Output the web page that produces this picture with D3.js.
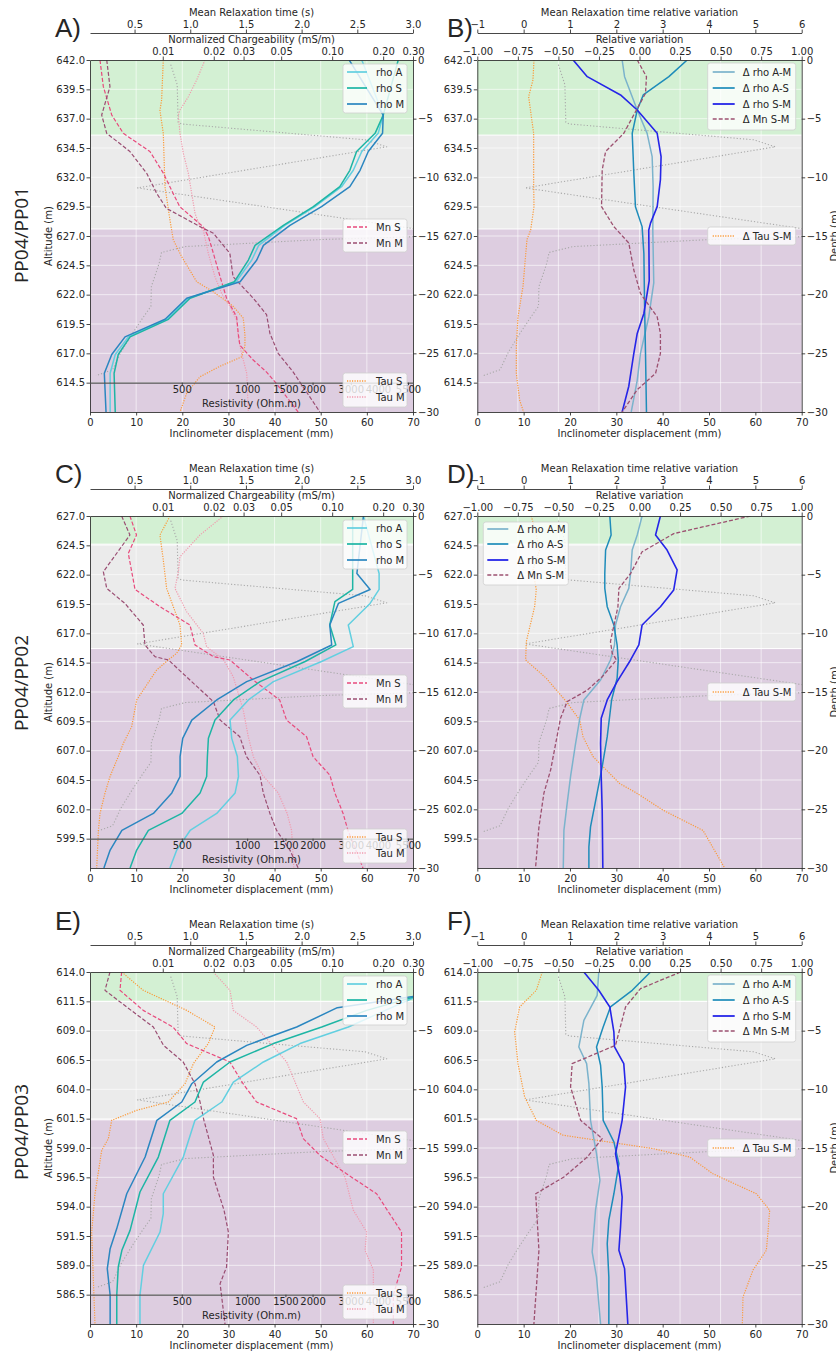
<!DOCTYPE html>
<html><head><meta charset="utf-8">
<script src="https://cdn.jsdelivr.net/npm/d3@7"></script>
<style>body{margin:0;background:#fff} svg text{font-family:"DejaVu Sans",sans-serif}</style>
</head><body><svg id="c" width="836" height="1355"></svg>
<script>
// ---------------- DATA ----------------
const rowNames = ["PP04/PP01","PP04/PP02","PP04/PP03"];
const leftLetters = ["A)","C)","E)"];
const rightLetters = ["B)","D)","F)"];
const altTop = [642, 627, 614];
const greenEnd = [-6.4, -2.4, -2.5];
const grayEnd = [-14.4, -11.3, -12.6];
const depthTicks = [0,-5,-10,-15,-20,-25,-30];
const inclTicks = [0,10,20,30,40,50,60,70];
const tauTicks = [0.5,1.0,1.5,2.0,2.5,3.0];
const mnTicks = [0.01,0.02,0.03,0.05,0.10,0.20,0.30];
const rhoTicks = [500,1000,1500,2000,3000,4000,5500];
const relTicks = [-1,-0.75,-0.5,-0.25,0,0.25,0.5,0.75,1];
const tauRelTicks = [-1,0,1,2,3,4,5,6];
const resAxisDepth = -27.5;

// inclinometer displacement (depth m, mm) - same borehole in every panel
const inclinometer = [[-0.4,17.5],[-2.1,18.9],[-5.3,19.1],[-5.45,19.8],[-6.8,59.6],[-7.4,64.3],[-10.9,10.3],[-14.95,80],[-15.3,50.2],[-15.9,20.7],[-16.4,15.5],[-17.3,15.0],[-17.8,14.6],[-19.3,13.3],[-21.0,13.2],[-22.0,11.4],[-23.3,9.2],[-24.9,6.7],[-26.4,4.9],[-26.9,1.3]];

// Row 1 (PP04/PP01)
const rhoA_1 = [[0,3370],[-4.7,4230],[-6.25,4010],[-7.8,3370],[-9.4,3080],[-10.8,2720],[-12.5,2050],[-14.1,1490],[-15.8,1130],[-17.05,1050],[-18.9,889],[-20.3,536],[-22.1,426],[-23.6,284],[-25.1,247],[-26.7,234],[-30,234]];
const rhoS_1 = [[0,4960],[-4.7,4230],[-6.25,3880],[-7.8,3190],[-9.4,2970],[-10.8,2670],[-12.5,2017],[-14.1,1468],[-15.8,1087],[-17.05,1013],[-18.9,873],[-20.3,546],[-22.1,434],[-23.6,289],[-25.1,255],[-26.7,244],[-30,247]];
const rhoM_1 = [[0,2950],[-4.7,4230],[-6.25,4200],[-7.8,3610],[-9.4,3310],[-10.8,2970],[-12.5,2200],[-14.1,1574],[-15.8,1188],[-17.05,1107],[-18.9,928],[-20.3,527],[-22.1,419],[-23.6,274],[-25.1,238],[-26.7,220],[-30,224]];
const mnS_1 = [[0,0.00426],[-2.27,0.00446],[-4.69,0.0050],[-6.25,0.00585],[-7.8,0.0084],[-9.66,0.0101],[-11.36,0.0115],[-12.5,0.0126],[-14.2,0.0173],[-15.06,0.0186],[-16.48,0.0199],[-18.47,0.0218],[-20.3,0.0238],[-21.9,0.0273],[-23.3,0.0279],[-24.3,0.0285],[-25.57,0.0342],[-26.6,0.041],[-27.6,0.047],[-30,0.063]];
const mnM_1 = [[0,0.00467],[-2.27,0.00488],[-4.69,0.00436],[-6.25,0.00467],[-7.8,0.0064],[-9.66,0.00804],[-11.36,0.0092],[-12.64,0.0105],[-14.2,0.0166],[-14.77,0.0199],[-16.48,0.0249],[-18.47,0.026],[-20.3,0.0342],[-21.7,0.041],[-23.3,0.0429],[-25.0,0.048],[-26.6,0.0589],[-30,0.0846]];
const tauS_1 = [[0,0.758],[-3.41,0.743],[-4.3,0.728],[-6.25,0.758],[-10.8,0.773],[-13.64,0.818],[-15.34,0.848],[-16.76,0.923],[-18.9,1.058],[-19.75,1.207],[-21.0,1.386],[-22.0,1.476],[-23.44,1.491],[-24.4,1.491],[-25.3,1.461],[-26.1,1.267],[-27.0,1.087],[-28.4,0.968],[-30,0.908]];
const tauM_1 = [[0,1.132],[-1.7,1.058],[-3.13,0.983],[-4.26,0.908],[-4.69,0.893],[-6.25,0.908],[-7.95,0.938],[-9.66,0.983],[-11.36,1.013],[-13.07,1.043],[-14.2,1.087],[-14.49,1.117],[-16.48,1.162],[-18.47,1.222],[-19.9,1.282],[-21.0,1.357],[-22.16,1.417],[-23.6,1.431],[-25.0,1.461],[-26.7,1.507],[-30,1.521]];
const dRhoAM_1 = [[0,-0.107],[-1.42,-0.092],[-4.26,-0.014],[-6.25,0.047],[-8.24,0.078],[-10.8,0.084],[-14.5,0.082],[-19.0,0.088],[-21.9,0.057],[-25.0,0.006],[-27.3,-0.014],[-30,-0.051]];
const dRhoAS_1 = [[0,0.294],[-1.42,0.181],[-2.98,0.023],[-4.26,-0.014],[-6.25,-0.045],[-8.24,-0.039],[-9.66,-0.035],[-12.5,-0.025],[-14.2,0.016],[-16.5,0.027],[-20.7,0.031],[-25.0,0.037],[-30,0.043]];
const dRhoSM_1 = [[0,-0.409],[-1.42,-0.322],[-2.98,-0.117],[-4.26,-0.014],[-6.25,0.109],[-8.24,0.133],[-10.2,0.129],[-12.5,0.109],[-13.9,0.068],[-14.5,0.057],[-18.8,0.060],[-21.6,0.027],[-23.3,-0.014],[-25.0,-0.035],[-27.8,-0.066],[-30,-0.107]];
const dMn_1 = [[0,-0.014],[-1.42,0.043],[-2.84,0.037],[-6.25,-0.097],[-7.8,-0.209],[-9.38,-0.230],[-12.5,-0.234],[-14.2,-0.158],[-15.6,-0.066],[-17.9,-0.035],[-19.9,0.006],[-21.9,0.109],[-23.3,0.129],[-25.0,0.129],[-26.7,0.099],[-28.1,-0.014],[-30,-0.107]];
const dTau_1 = [[0,0.223],[-1.7,0.201],[-3.13,0.108],[-6.25,0.216],[-10.5,0.216],[-12.5,0.223],[-14.5,0.151],[-15.3,0.072],[-19.3,-0.014],[-21.9,-0.122],[-24.4,-0.158],[-26.7,-0.158],[-29.0,-0.086],[-30,0]];

// Row 2 (PP04/PP02)
const rhoA_2 = [[0,3430],[-4.9,4050],[-6.26,4050],[-7.45,3680],[-9.29,2920],[-11.13,3080],[-12.4,2200],[-14.12,1321],[-15.68,1013],[-17.39,834],[-18.95,849],[-20.5,901],[-22.2,912],[-23.6,880],[-25.35,724],[-26.8,546],[-28.47,474],[-30,441]];
const rhoS_2 = [[0,3060],[-4.9,3060],[-6.26,3060],[-7.3,2535],[-9.29,2400],[-10.99,2560],[-12.4,1850],[-14.12,1146],[-15.68,864],[-17.39,711],[-18.95,663],[-20.5,656],[-22.2,651],[-23.6,607],[-25.35,500],[-26.8,351],[-28.47,310],[-30,289]];
const rhoM_2 = [[0,3430],[-4.9,3200],[-6.26,3680],[-7.45,2630],[-9.29,2400],[-10.99,2450],[-12.4,1700],[-14.12,995],[-15.68,724],[-17.39,556],[-18.95,505],[-20.5,491],[-22.2,491],[-23.6,450],[-25.35,370],[-26.8,265],[-28.47,234],[-30,219]];
const mnS_2 = [[0,0.0064],[-1.62,0.0070],[-3.18,0.00626],[-6.26,0.00686],[-7.73,0.00963],[-9.29,0.01447],[-10.99,0.0155],[-11.99,0.0199],[-12.27,0.0249],[-13.98,0.0342],[-15.68,0.049],[-17.39,0.0538],[-18.81,0.0706],[-20.5,0.0771],[-22.1,0.097],[-23.6,0.1037],[-25.35,0.116],[-26.8,0.124],[-30,0.152]];
const mnM_2 = [[0,0.00572],[-1.62,0.0064],[-4.75,0.00446],[-6.17,0.00467],[-7.45,0.00598],[-9.29,0.00767],[-10.99,0.00785],[-11.99,0.009],[-12.27,0.0108],[-13.98,0.01447],[-15.82,0.0199],[-17.39,0.0218],[-18.81,0.0285],[-20.5,0.0312],[-22.1,0.0375],[-23.6,0.0392],[-25.35,0.0429],[-26.8,0.047],[-28.47,0.0563],[-30,0.063]];
const tauS_2 = [[0,0.818],[-1.62,0.728],[-3.75,0.758],[-6.17,0.788],[-9.29,0.908],[-10.99,0.923],[-11.7,0.878],[-12.27,0.803],[-13.13,0.698],[-15.68,0.519],[-17.96,0.474],[-19.38,0.399],[-20.5,0.354],[-22.2,0.28],[-23.6,0.235],[-25.35,0.19],[-26.8,0.175],[-30,0.16]];
const tauM_2 = [[0,1.297],[-1.62,1.087],[-3.47,0.908],[-4.75,0.893],[-6.17,0.863],[-8.16,0.968],[-10.0,1.117],[-11.13,1.147],[-12.27,1.3],[-13.7,1.386],[-16.53,1.476],[-18.81,1.521],[-20.5,1.566],[-22.1,1.65],[-23.6,1.79],[-25.35,1.87],[-26.8,1.91],[-30,1.93]];
const dRhoAM_2 = [[0,0.016],[-1.62,-0.014],[-2.9,-0.045],[-4.9,-0.055],[-6.17,-0.066],[-7.73,-0.117],[-9.29,-0.148],[-10.99,-0.154],[-12.27,-0.179],[-13.98,-0.240],[-15.68,-0.343],[-17.24,-0.368],[-19.38,-0.394],[-22.2,-0.425],[-24.5,-0.446],[-26.8,-0.466],[-30,-0.470]];
const dRhoAS_2 = [[0,-0.183],[-1.62,-0.175],[-2.9,-0.209],[-4.9,-0.214],[-6.17,-0.214],[-7.73,-0.199],[-9.29,-0.158],[-10.99,-0.138],[-12.27,-0.131],[-13.83,-0.138],[-15.68,-0.172],[-18.81,-0.199],[-21.36,-0.230],[-23.6,-0.261],[-26.5,-0.302],[-28.2,-0.312],[-30,-0.312]];
const dRhoSM_2 = [[0,0.129],[-1.62,0.099],[-2.9,0.170],[-4.6,0.232],[-6.3,0.211],[-7.73,0.129],[-9.29,0.016],[-10.99,-0.004],[-12.27,-0.055],[-14.12,-0.138],[-15.68,-0.199],[-17.24,-0.236],[-19.38,-0.240],[-22.2,-0.236],[-25.07,-0.230],[-30,-0.226]];
const dMn_2 = [[0,0.684],[-1.5,0.211],[-3.05,0.016],[-4.9,-0.055],[-6.17,-0.127],[-7.73,-0.133],[-10.7,-0.179],[-11.7,-0.168],[-12.27,-0.142],[-13.7,-0.230],[-14.84,-0.322],[-15.82,-0.446],[-17.24,-0.487],[-21.65,-0.548],[-23.6,-0.589],[-26.5,-0.620],[-30,-0.641]];
const dTau_2 = [[0,0.165],[-1.62,0.273],[-2.9,0.345],[-4.6,0.201],[-6.3,0.273],[-7.73,0.237],[-10.7,0.058],[-12.27,0.043],[-13.83,0.489],[-15.82,0.921],[-17.39,1.209],[-18.81,1.281],[-20.5,1.496],[-21.36,1.712],[-22.8,2.072],[-23.6,2.432],[-25.07,3.007],[-26.8,3.871],[-30,4.338]];

// Row 3 (PP04/PP03)
const rhoA_3 = [[0,20000],[-2.1,6000],[-3.55,4000],[-4.69,2923],[-6.1,1751],[-7.67,1188],[-9.38,864],[-11.08,764],[-12.64,575],[-15.77,508],[-18.9,411],[-20.6,411],[-22.16,397],[-25.0,333],[-27.55,321],[-30,321]];
const rhoS_3 = [[0,20000],[-1.9,6500],[-3.27,3550],[-4.69,2204],[-6.1,1321],[-7.67,834],[-9.38,629],[-11.08,575],[-12.64,441],[-15.77,390],[-18.75,321],[-22.02,289],[-23.72,265],[-25.14,255],[-27.55,251],[-30,251]];
const rhoM_3 = [[0,20000],[-2.0,6200],[-3.04,2600],[-4.69,1690],[-6.25,995],[-7.67,724],[-9.52,556],[-11.08,500],[-12.64,384],[-15.77,339],[-18.9,279],[-21.87,251],[-23.58,234],[-25.28,227],[-27.55,234],[-30,234]];
const mnS_3 = [[0,0.00572],[-1.56,0.00559],[-3.27,0.00767],[-4.69,0.0115],[-6.1,0.01384],[-7.67,0.0249],[-9.52,0.0298],[-11.08,0.0358],[-12.5,0.0616],[-14.2,0.0675],[-15.62,0.0846],[-17.2,0.1215],[-18.9,0.183],[-22.16,0.2567],[-25.14,0.2567],[-27.55,0.2295],[-30,0.2295]];
const mnM_3 = [[0,0.00488],[-1.56,0.00456],[-2.98,0.00612],[-4.69,0.0088],[-6.25,0.0101],[-7.67,0.0132],[-9.52,0.0155],[-11.08,0.0166],[-12.64,0.0175],[-15.62,0.0199],[-17.47,0.0199],[-20.3,0.0230],[-22.16,0.0244],[-25.14,0.0238],[-26.56,0.0218],[-30,0.0233]];
const tauS_3 = [[0,0.385],[-1.56,0.578],[-3.27,0.968],[-4.69,1.222],[-6.1,1.162],[-7.81,1.028],[-9.52,0.953],[-11.08,0.803],[-11.79,0.519],[-12.64,0.295],[-14.2,0.265],[-15.2,0.205],[-18.9,0.145],[-22.16,0.115],[-30,0.145]];
const tauM_3 = [[0,1.207],[-1.56,1.357],[-3.27,1.386],[-4.69,1.596],[-7.67,1.866],[-11.08,2.016],[-12.5,2.165],[-14.2,2.195],[-17.47,2.389],[-20.3,2.464],[-22.16,2.584],[-23.72,2.569],[-25.4,2.644],[-30,2.644]];
const dRhoAM_3 = [[0,-0.251],[-1.99,-0.261],[-4.12,-0.343],[-6.39,-0.374],[-7.81,-0.326],[-9.52,-0.312],[-12.64,-0.302],[-15.48,-0.265],[-17.75,-0.244],[-20.3,-0.271],[-23.86,-0.292],[-25.99,-0.265],[-30,-0.240]];
const dRhoAS_3 = [[0,0.068],[-1.56,-0.045],[-2.98,-0.179],[-4.69,-0.224],[-6.39,-0.265],[-7.95,-0.240],[-9.8,-0.230],[-12.64,-0.224],[-14.48,-0.158],[-16.33,-0.127],[-18.9,-0.158],[-21.15,-0.189],[-23.15,-0.199],[-25.99,-0.189],[-30,-0.189]];
const dRhoSM_3 = [[0,-0.343],[-1.56,-0.251],[-2.98,-0.183],[-5.11,-0.158],[-6.39,-0.154],[-7.81,-0.097],[-9.8,-0.086],[-12.64,-0.107],[-14.06,-0.127],[-15.48,-0.148],[-17.47,-0.121],[-19.18,-0.107],[-21.73,-0.117],[-23.72,-0.127],[-25.28,-0.092],[-30,-0.072]];
const dMn_3 = [[0,0.253],[-1.42,0.006],[-2.98,-0.086],[-6.25,-0.148],[-7.81,-0.415],[-9.8,-0.425],[-12.64,-0.363],[-14.2,-0.230],[-15.77,-0.322],[-17.47,-0.466],[-18.9,-0.640],[-23.72,-0.620],[-30,-0.651]];
const dTau_3 = [[0,0.403],[-1.56,0.273],[-2.98,-0.086],[-5.11,-0.194],[-7.81,-0.122],[-10.65,0.022],[-12.64,0.273],[-13.91,0.849],[-15.05,2.791],[-15.77,3.583],[-17.2,4.086],[-18.9,5.022],[-20.3,5.309],[-22.16,5.273],[-23.72,5.237],[-25.4,4.95],[-27.7,4.734],[-30,4.719]];

const rhoA = [rhoA_1, rhoA_2, rhoA_3], rhoS = [rhoS_1, rhoS_2, rhoS_3], rhoM = [rhoM_1, rhoM_2, rhoM_3];
const mnS = [mnS_1, mnS_2, mnS_3], mnM = [mnM_1, mnM_2, mnM_3];
const tauS = [tauS_1, tauS_2, tauS_3], tauM = [tauM_1, tauM_2, tauM_3];
const dRhoAM = [dRhoAM_1, dRhoAM_2, dRhoAM_3], dRhoAS = [dRhoAS_1, dRhoAS_2, dRhoAS_3], dRhoSM = [dRhoSM_1, dRhoSM_2, dRhoSM_3];
const dMn = [dMn_1, dMn_2, dMn_3], dTau = [dTau_1, dTau_2, dTau_3];

// ---------------- LAYOUT / STYLE ----------------
const PH = 352;
const TOPS = [60, 516, 972];
const LX = [90, 413], RX = [477.3, 801.7];
const letterBase = [37, 483, 930];
const rowLabelY = [235, 683, 1132];
const COL = {rhoA:"#62cfe0", rhoS:"#1db5a4", rhoM:"#2a86c0", mnS:"#e84a7c", mnM:"#9a4d72", tauS:"#fb9a38", tauM:"#f19aae",
  incl:"#a9a9a9", dAM:"#7bb3cc", dAS:"#1e8cba", dSM:"#2525e8", dMn:"#9c5070", dTau:"#fb9a38"};
const ST = {
  rhoA:{c:COL.rhoA,w:1.5,d:null}, rhoS:{c:COL.rhoS,w:1.5,d:null}, rhoM:{c:COL.rhoM,w:1.5,d:null},
  mnS:{c:COL.mnS,w:1.2,d:"4,2"}, mnM:{c:COL.mnM,w:1.2,d:"4,2"},
  tauS:{c:COL.tauS,w:1.2,d:"1.2,1.3"}, tauM:{c:COL.tauM,w:1.2,d:"1.2,1.3"},
  incl:{c:COL.incl,w:1.1,d:"1.2,2"},
  dAM:{c:COL.dAM,w:1.5,d:null}, dAS:{c:COL.dAS,w:1.5,d:null}, dSM:{c:COL.dSM,w:1.6,d:null},
  dMn:{c:COL.dMn,w:1.3,d:"4,2"}, dTau:{c:COL.dTau,w:1.2,d:"1.2,1.3"}
};

const svg = d3.select("#c");
const defs = svg.append("defs");
const TXT = "#262626";

function styleAxis(g){
  g.attr("font-family","DejaVu Sans").attr("font-size",10);
  g.selectAll("path.domain").attr("stroke","#333").attr("stroke-width",0.9);
  g.selectAll(".tick line").attr("stroke","#333").attr("stroke-width",0.9);
  g.selectAll(".tick text").attr("fill",TXT);
  return g;
}
function label(x,y,s,o={}){
  const t = svg.append("text").attr("x",x).attr("y",y).attr("text-anchor",o.anchor||"middle")
    .attr("dominant-baseline",o.base||"central").attr("font-size",o.size||10).attr("fill",TXT).text(s);
  if(o.rot!==undefined) t.attr("transform",`rotate(${o.rot},${x},${y})`);
  if(o.family) t.style("font-family",o.family);
  return t;
}
function legend(bx,by,bw,bh,items,rowsY,swX,swL,txX){
  const g = svg.append("g");
  g.append("rect").attr("x",bx).attr("y",by).attr("width",bw).attr("height",bh).attr("rx",2.5)
    .attr("fill","#fff").attr("fill-opacity",0.8).attr("stroke","#cfcfcf").attr("stroke-width",0.8);
  items.forEach((it,i)=>{
    const yy = rowsY[i];
    g.append("line").attr("x1",swX).attr("x2",swX+swL).attr("y1",yy).attr("y2",yy)
      .attr("stroke",it.s.c).attr("stroke-width",it.s.w+0.2).attr("stroke-dasharray",it.s.d);
    g.append("text").attr("x",txX).attr("y",yy).attr("dominant-baseline","central").attr("font-size",10).attr("fill",TXT).text(it.t);
  });
}

function drawPanel(r, side){
  const T = TOPS[r];
  const [x0,x1] = side==="L" ? LX : RX;
  const y = d3.scaleLinear().domain([0,-30]).range([T,T+PH]);
  const alt = d3.scaleLinear().domain([altTop[r], altTop[r]-30]).range([T,T+PH]);
  const xIncl = d3.scaleLinear().domain([0,70]).range([x0,x1]);
  const cid = `clip${side}${r}`;
  defs.append("clipPath").attr("id",cid).append("rect").attr("x",x0).attr("y",T).attr("width",x1-x0).attr("height",PH);

  // zones
  const zones = [[0,greenEnd[r],"#d3f0d3"],[greenEnd[r],grayEnd[r],"#ebebeb"],[grayEnd[r],-30,"#ddcde0"]];
  zones.forEach(z=> svg.append("rect").attr("x",x0).attr("width",x1-x0).attr("y",y(z[0])).attr("height",y(z[1])-y(z[0])).attr("fill",z[2]));
  [greenEnd[r],grayEnd[r]].forEach(d=> svg.append("line").attr("x1",x0).attr("x2",x1).attr("y1",y(d)).attr("y2",y(d)).attr("stroke","#fff").attr("stroke-width",1));

  let xRel, xTauRel, xRho, xMn, xTau;
  if(side==="L"){
    xTau = d3.scaleLinear().domain([0.1,3.0]).range([x0,x1]);
    xMn = d3.scaleLog().domain([0.00372,0.3]).range([x0,x1]);
    xRho = d3.scaleLog().domain([189,5800]).range([x0,x1]);
  } else {
    xRel = d3.scaleLinear().domain([-1,1]).range([x0,x1]);
    xTauRel = d3.scaleLinear().domain([-1,6]).range([x0,x1]);
  }
  // grid
  const altTicks = d3.range(0,12).map(k=>altTop[r]-2.5*k);
  const gx = side==="L" ? inclTicks.map(xIncl) : relTicks.map(xRel);
  const grid = svg.append("g").attr("stroke","#fff").attr("stroke-opacity",0.75).attr("stroke-width",0.8);
  gx.forEach(v=>{ if(v>x0+1 && v<x1-1) grid.append("line").attr("x1",v).attr("x2",v).attr("y1",T).attr("y2",T+PH); });
  altTicks.forEach(a=>{ const v=alt(a); if(v>T+1) grid.append("line").attr("x1",x0).attr("x2",x1).attr("y1",v).attr("y2",v); });

  const plot = svg.append("g").attr("clip-path",`url(#${cid})`);
  function series(data,xs,s){
    const ln = d3.line().x(d=>xs(d[1])).y(d=>y(d[0]));
    plot.append("path").attr("d",ln(data)).attr("fill","none").attr("stroke",s.c).attr("stroke-width",s.w)
      .attr("stroke-dasharray",s.d).attr("stroke-linejoin","round");
  }
  series(inclinometer,xIncl,ST.incl);

  if(side==="L"){
    series(tauS[r],xTau,ST.tauS);
    series(tauM[r],xTau,ST.tauM);
    series(mnS[r],xMn,ST.mnS);
    series(mnM[r],xMn,ST.mnM);
    series(rhoA[r],xRho,ST.rhoA);
    series(rhoS[r],xRho,ST.rhoS);
    series(rhoM[r],xRho,ST.rhoM);
  } else {
    series(dTau[r],xTauRel,ST.dTau);
    series(dRhoAM[r],xRel,ST.dAM);
    series(dRhoAS[r],xRel,ST.dAS);
    series(dRhoSM[r],xRel,ST.dSM);
    series(dMn[r],xRel,ST.dMn);
  }

  // axes
  styleAxis(svg.append("g").attr("transform",`translate(0,${T+PH})`)
    .call(d3.axisBottom(xIncl).tickValues(inclTicks).tickFormat(d3.format("d")).tickSize(3.5).tickPadding(3).tickSizeOuter(0)));
  styleAxis(svg.append("g").attr("transform",`translate(${x0},0)`)
    .call(d3.axisLeft(alt).tickValues(altTicks).tickFormat(d3.format(".1f")).tickSize(3.5).tickPadding(1.5).tickSizeOuter(0)));
  styleAxis(svg.append("g").attr("transform",`translate(${x1},0)`)
    .call(d3.axisRight(y).tickValues(depthTicks).tickFormat(d3.format("d")).tickSize(3.5).tickPadding(1.5).tickSizeOuter(0)));
  const cx = (x0+x1)/2;
  if(side==="L"){
    styleAxis(svg.append("g").attr("transform",`translate(0,${T})`)
      .call(d3.axisTop(xMn).tickValues(mnTicks).tickFormat(d3.format(".2f")).tickSize(3.5).tickPadding(1.5).tickSizeOuter(0)));
    styleAxis(svg.append("g").attr("transform",`translate(0,${T-27})`)
      .call(d3.axisTop(xTau).tickValues(tauTicks).tickFormat(d3.format(".1f")).tickSize(3.5).tickPadding(1.5).tickSizeOuter(0)));
    label(cx,T-48,"Mean Relaxation time (s)");
    label(cx,T-21,"Normalized Chargeability (mS/m)");
    // resistivity axis inside the plot
    const ra = styleAxis(svg.append("g").attr("transform",`translate(0,${y(resAxisDepth)})`)
      .call(d3.axisBottom(xRho).tickValues(rhoTicks).tickFormat(d3.format("d")).tickSize(2.5).tickPadding(1).tickSizeOuter(0)));
    ra.select("path.domain").attr("stroke","#555").attr("stroke-width",1.4);
    label(cx,y(resAxisDepth)+20.5,"Resistivity (Ohm.m)");
    label(51.5,T+PH/2,"Altitude (m)",{rot:-90,base:"auto"});
    // legends
    legend(x1-70,T+4,64,49,[{t:"rho A",s:ST.rhoA},{t:"rho S",s:ST.rhoS},{t:"rho M",s:ST.rhoM}],[T+12,T+28,T+44],x1-66,20,x1-37);
    legend(x1-70,T+159,64,33,[{t:"Mn S",s:ST.mnS},{t:"Mn M",s:ST.mnM}],[T+167,T+183],x1-66,20,x1-37);
    legend(x1-70,T+313,64,34,[{t:"Tau S",s:ST.tauS},{t:"Tau M",s:ST.tauM}],[T+321,T+337],x1-66,20,x1-37);
  } else {
    styleAxis(svg.append("g").attr("transform",`translate(0,${T})`)
      .call(d3.axisTop(xRel).tickValues(relTicks).tickFormat(d3.format(".2f")).tickSize(3.5).tickPadding(1.5).tickSizeOuter(0)));
    styleAxis(svg.append("g").attr("transform",`translate(0,${T-27})`)
      .call(d3.axisTop(xTauRel).tickValues(tauRelTicks).tickFormat(d3.format("d")).tickSize(3.5).tickPadding(1.5).tickSizeOuter(0)));
    label(cx,T-48,"Mean Relaxation time relative variation");
    label(cx,T-21,"Relative variation");
    label(838,T+PH/2,"Depth (m)",{rot:-90,base:"auto"});
    const items = [{t:"\u0394 rho A-M",s:ST.dAM},{t:"\u0394 rho A-S",s:ST.dAS},{t:"\u0394 rho S-M",s:ST.dSM},{t:"\u0394 Mn S-M",s:ST.dMn}];
    if(r===1){
      legend(x0+6,T+6,85,63,items,[T+13,T+28,T+44,T+59],x0+10,21,x0+40);
    } else {
      legend(x1-94,T+3,88,67,items,[T+12,T+28,T+44,T+59],x1-89,22,x1-59);
    }
    legend(x1-94,T+167,88,18,[{t:"\u0394 Tau S-M",s:ST.dTau}],[T+176],x1-89,22,x1-59);
  }
  label(cx,T+373,"Inclinometer displacement (mm)");
}

for(let r=0;r<3;r++){
  drawPanel(r,"L");
  drawPanel(r,"R");
  label(55,letterBase[r],leftLetters[r],{anchor:"start",base:"auto",size:26,family:"Liberation Sans"});
  label(447,letterBase[r],rightLetters[r],{anchor:"start",base:"auto",size:26,family:"Liberation Sans"});
  label(28,rowLabelY[r],rowNames[r],{rot:-90,base:"auto",size:19,family:"Open Sans"});
}
</script></body></html>
